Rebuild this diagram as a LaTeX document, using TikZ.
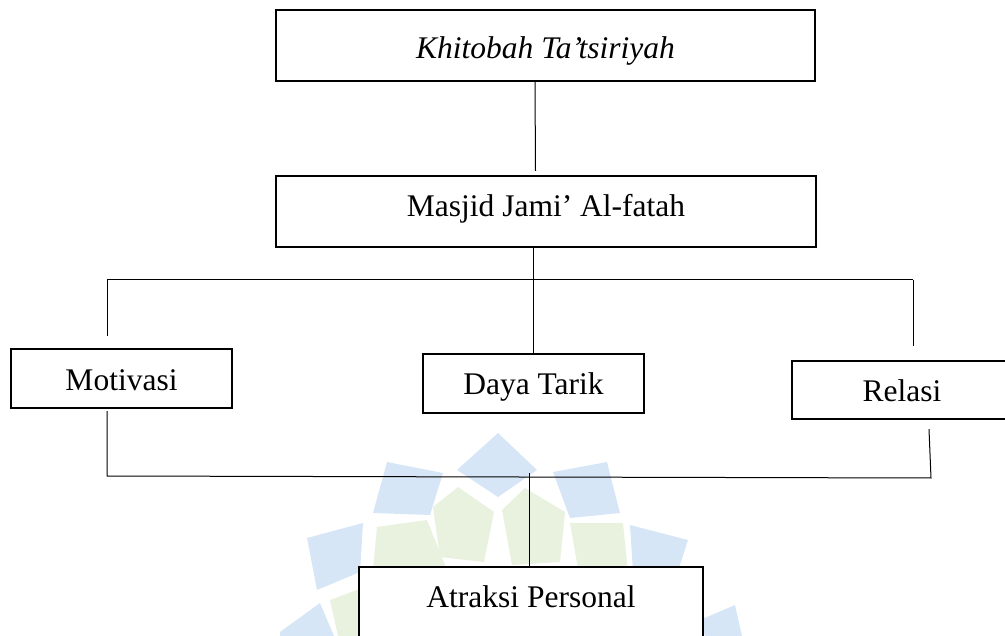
\documentclass[tikz,border=0pt]{standalone}
\usepackage{fontspec}
\setmainfont{Liberation Serif}
\definecolor{wmblue}{RGB}{214,230,246}
\definecolor{wmgreen}{RGB}{232,242,223}
\begin{document}
\begin{tikzpicture}[x=1pt,y=-1pt,
  box/.style={draw=black,line width=2.2pt,rectangle,inner sep=0pt,text depth=0pt,
    font=\fontsize{31.5}{36}\selectfont},
  conn/.style={draw=black,line width=1pt},
  petalb/.style={fill=wmblue,draw=none},
  petalg/.style={fill=wmgreen,draw=none}]
\useasboundingbox (0,0) rectangle (1005,636);
\begin{scope}
\clip (0,0) rectangle (1005,636);
% watermark
\fill[petalg] (433,507) -- (458,487) -- (494,512) -- (484,562) -- (440,557) -- cycle;
\fill[petalg] (377,527) -- (427,520) -- (445,565) -- (420,585) -- (372,580) -- cycle;
\fill[petalg] (502,510) -- (525,488) -- (565,512) -- (560,562) -- (512,565) -- cycle;
\fill[petalg] (570,523) -- (623,523) -- (628,572) -- (580,580) -- cycle;
\fill[petalg] (330,600) -- (362,588) -- (372,636) -- (338,636) -- cycle;
\fill[petalg] (640,600) -- (670,610) -- (660,636) -- (635,636) -- cycle;
\fill[petalb] (498,433) -- (537,470) -- (498,497) -- (457,470) -- cycle;
\fill[petalb] (387,462) -- (443,473) -- (430,515) -- (373,513) -- cycle;
\fill[petalb] (553,472) -- (607,462) -- (620,513) -- (570,518) -- cycle;
\fill[petalb] (307,538) -- (363,523) -- (360,572) -- (317,590) -- cycle;
\fill[petalb] (630,525) -- (688,540) -- (672,590) -- (633,572) -- cycle;
\fill[petalb] (280,632) -- (320,603) -- (334,636) -- (280,636) -- cycle;
\fill[petalb] (700,620) -- (735,605) -- (742,636) -- (705,636) -- cycle;
% boxes
\node[box,fill=white,minimum width=539pt,minimum height=71pt,text height=27pt] (top) at (545.5,45.5) {\itshape Khitobah Ta’tsiriyah};
\node[box,fill=white,minimum width=540pt,minimum height=71pt,text height=11pt] (masjid) at (546,211.5) {Masjid Jami’ Al-fatah};
\node[box,fill=white,minimum width=221pt,minimum height=59pt,text height=25pt] (mot) at (121.5,378.5) {Motivasi};
\node[box,fill=white,minimum width=221pt,minimum height=59pt,text height=23pt] (daya) at (533.5,383.5) {Daya Tarik};
\node[box,fill=white,minimum width=220pt,minimum height=58pt,text height=24pt] (rel) at (902,390) {Relasi};
\node[box,fill=white,minimum width=344pt,minimum height=81pt,text height=0pt] (atr) at (531,607.5) {Atraksi Personal};
% connectors
\coordinate (busL) at (107,280);
\coordinate (busM) at (533,280);
\coordinate (busR) at (913,280);
\coordinate (botL) at (107,476);
\coordinate (botM) at (529,473);
\coordinate (botR) at (931,478);
\draw[conn] ([xshift=-10.5pt]top.south) -- ([xshift=-10.5pt,yshift=4pt]masjid.north);
\draw[conn] ([xshift=-13pt]masjid.south) -- (busM);
\draw[conn] (busL) -- (busR);
\draw[conn] (busL) -- ([xshift=-14.5pt,yshift=12pt]mot.north);
\draw[conn] (busM) -- (daya.north -| busM);
\draw[conn] (busR) -- ([xshift=11pt,yshift=14pt]rel.north);
\draw[conn] ([xshift=-14.5pt,yshift=-2pt]mot.south) -- (botL) -- (botR) -- ([xshift=27pt,yshift=-9pt]rel.south);
\draw[conn] (botM) -- (atr.north -| botM);
\end{scope}
\end{tikzpicture}
\end{document}
